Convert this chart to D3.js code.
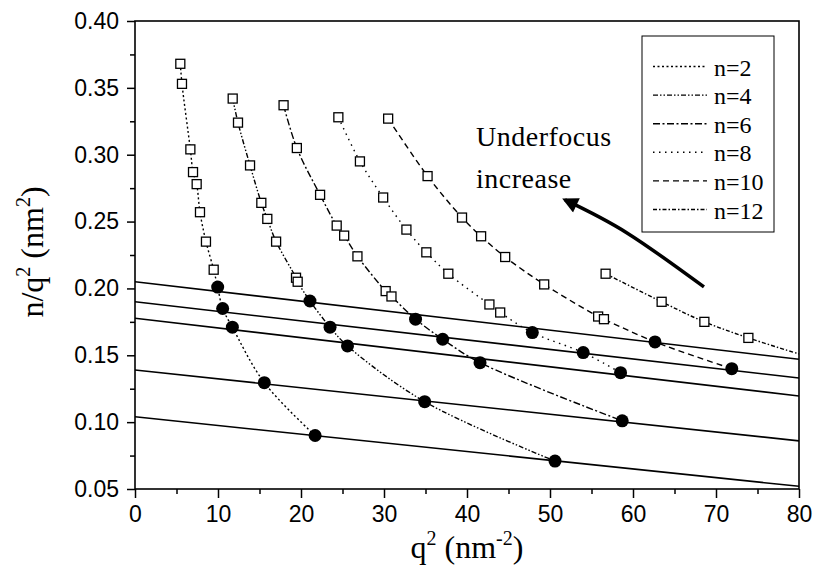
<!DOCTYPE html>
<html>
<head>
<meta charset="utf-8">
<script src="https://cdn.jsdelivr.net/npm/d3@7"></script>
<style>
  body { margin: 0; background: #fff; }
</style>
</head>
<body>
<div id="chart"></div>
<script>
// series names
const nLabels = ['n=2', 'n=4', 'n=6', 'n=8', 'n=10', 'n=12'];

// open squares (q^2, n/q^2) per series
const sqQ2 = [
  [5.46, 5.66, 6.67, 6.99, 7.43, 7.83, 8.55, 9.48],
  [11.77, 12.41, 13.86, 15.22, 15.94, 17.0, 19.4, 19.6],
  [17.9, 19.5, 22.3, 24.3, 25.2, 26.8, 30.2, 30.9],
  [24.5, 27.1, 29.9, 32.7, 35.1, 37.75, 42.7, 44.0],
  [30.5, 35.25, 39.4, 41.7, 44.6, 49.3, 55.8, 56.5],
  [56.7, 63.45, 68.6, 73.9]
];
const sqY = [
  [0.368, 0.353, 0.304, 0.287, 0.278, 0.257, 0.235, 0.214],
  [0.342, 0.324, 0.292, 0.264, 0.252, 0.235, 0.208, 0.205],
  [0.337, 0.305, 0.270, 0.247, 0.2395, 0.224, 0.198, 0.194],
  [0.328, 0.295, 0.268, 0.244, 0.227, 0.211, 0.188, 0.182],
  [0.327, 0.284, 0.253, 0.239, 0.2235, 0.203, 0.179, 0.177],
  [0.211, 0.190, 0.175, 0.163]
];

// filled circles (intersections) per series
const dotQ2 = [
  [9.96, 10.56, 11.73, 15.58, 21.7],
  [21.08, 23.5, 25.6, 34.9, 50.6],
  [33.8, 37.07, 41.57, 58.7],
  [47.87, 54.0, 58.5],
  [62.65, 71.9],
  []
];
const dotY = [
  [0.201, 0.185, 0.171, 0.1295, 0.090],
  [0.1906, 0.171, 0.157, 0.1153, 0.0709],
  [0.177, 0.162, 0.1445, 0.101],
  [0.167, 0.152, 0.137],
  [0.160, 0.140],
  []
];

// curve tail beyond the last marker (n=12 runs out to the frame)
const tailQ2 = [null, null, null, null, null, 80];
const tailY = [null, null, null, null, null, 0.151];

// straight solid lines: value at q^2 = 0 and at q^2 = 80
const solidStart = [0.205, 0.190, 0.1777, 0.139, 0.104];
const solidEnd = [0.147, 0.133, 0.1196, 0.086, 0.052];

// the "underfocus increase" arrow, in data units (head at the first point)
const arrowQ2 = [51.81, 59.28, 68.55];
const arrowY = [0.2662, 0.2415, 0.2011];

const xTicks = [0, 10, 20, 30, 40, 50, 60, 70, 80];
const yTicks = [0.05, 0.10, 0.15, 0.20, 0.25, 0.30, 0.35, 0.40];

const dashes = ['2,2.5', '5,2,1.5,2,1.5,2', '7,2.5,2,2.5', '1.5,4.5', '6,4', '4,2,1.5,2'];

let margin = { top: 21, right: 17, bottom: 85, left: 135 };
let width = 816 - margin.left - margin.right;
let height = 574 - margin.top - margin.bottom;

let svg = d3.select('#chart')
  .append('svg')
  .attr('width', 816)
  .attr('height', 574);

let g = svg.append('g')
  .attr('transform', `translate(${margin.left},${margin.top})`);

let x = d3.scaleLinear().domain([0, 80]).range([0, width]);
let y = d3.scaleLinear().domain([0.05, 0.40]).range([height, 0]);

// clip for lines
svg.append('defs').append('clipPath').attr('id', 'clip')
  .append('rect').attr('width', width).attr('height', height);

// arrow head marker
svg.select('defs').append('marker')
  .attr('id', 'head')
  .attr('viewBox', '0 0 10 10')
  .attr('refX', 8).attr('refY', 5)
  .attr('markerWidth', 5).attr('markerHeight', 4.5)
  .attr('markerUnits', 'strokeWidth')
  .attr('orient', 'auto-start-reverse')
  .append('path').attr('d', 'M0,0 L10,5 L0,10 Z').attr('fill', '#000');

// axes
let xMinor = d3.range(5, 80, 10);
let yMinor = d3.range(0.075, 0.40, 0.05);

g.append('g')
  .attr('transform', `translate(0,${height})`)
  .call(d3.axisBottom(x).tickValues(xMinor).tickSize(5).tickFormat(''))
  .call(a => a.select('.domain').remove());

g.append('g')
  .call(d3.axisLeft(y).tickValues(yMinor).tickSize(5).tickFormat(''))
  .call(a => a.select('.domain').remove());

let xAxis = g.append('g')
  .attr('transform', `translate(0,${height})`)
  .call(d3.axisBottom(x).tickValues(xTicks).tickSize(9).tickSizeOuter(0).tickPadding(8).tickFormat(d3.format('d')));

let yAxis = g.append('g')
  .call(d3.axisLeft(y).tickValues(yTicks).tickSize(8).tickSizeOuter(0).tickPadding(8).tickFormat(d3.format('.2f')));

[xAxis, yAxis].forEach(a => {
  a.selectAll('text')
    .style('font-family', '"Liberation Sans", Arial, sans-serif')
    .style('font-size', '23px')
    .attr('fill', '#000');
  a.select('.domain').remove();
});
g.selectAll('.tick line').attr('stroke', '#000').attr('stroke-width', 1.5);

// frame
g.append('rect')
  .attr('width', width).attr('height', height)
  .attr('fill', 'none')
  .attr('stroke', '#000')
  .attr('stroke-width', 1.6);

let plot = g.append('g').attr('clip-path', 'url(#clip)');

// solid lines
solidStart.forEach((s, i) => {
  plot.append('line')
    .attr('x1', x(0)).attr('y1', y(s))
    .attr('x2', x(80)).attr('y2', y(solidEnd[i]))
    .attr('stroke', '#000')
    .attr('stroke-width', 1.6);
});

// curves through squares and dots
let line = d3.line()
  .x(d => x(d[0]))
  .y(d => y(d[1]))
  .curve(d3.curveCatmullRom.alpha(0.5));

nLabels.forEach((name, i) => {
  let pts = sqQ2[i].map((q, j) => [q, sqY[i][j]])
    .concat(dotQ2[i].map((q, j) => [q, dotY[i][j]]));
  if (tailQ2[i] !== null) pts.push([tailQ2[i], tailY[i]]);
  plot.append('path')
    .datum(pts)
    .attr('d', line)
    .attr('fill', 'none')
    .attr('stroke', '#000')
    .attr('stroke-width', 1.4)
    .attr('stroke-dasharray', dashes[i]);
});

// open squares
nLabels.forEach((name, i) => {
  plot.selectAll(null)
    .data(sqQ2[i].map((q, j) => [q, sqY[i][j]]))
    .enter()
    .append('rect')
    .attr('x', d => x(d[0]) - 4.5)
    .attr('y', d => y(d[1]) - 4.5)
    .attr('width', 9).attr('height', 9)
    .attr('fill', '#fff')
    .attr('stroke', '#000')
    .attr('stroke-width', 1.3);
});

// filled circles
nLabels.forEach((name, i) => {
  plot.selectAll(null)
    .data(dotQ2[i].map((q, j) => [q, dotY[i][j]]))
    .enter()
    .append('circle')
    .attr('cx', d => x(d[0]))
    .attr('cy', d => y(d[1]))
    .attr('r', 6.5)
    .attr('fill', '#000');
});

// arrow
g.append('path')
  .datum(arrowQ2.map((q, j) => [q, arrowY[j]]))
  .attr('d', d3.line().x(d => x(d[0])).y(d => y(d[1])).curve(d3.curveNatural))
  .attr('fill', 'none')
  .attr('stroke', '#000')
  .attr('stroke-width', 3.5)
  .attr('marker-start', 'url(#head)');

// annotation text
let serif = '"Liberation Serif", "Times New Roman", serif';
svg.append('text')
  .attr('x', 476).attr('y', 146)
  .style('font-family', serif).style('font-size', '28px')
  .style('letter-spacing', '0.5px')
  .text('Underfocus');
svg.append('text')
  .attr('x', 476).attr('y', 188)
  .style('font-family', serif).style('font-size', '28px')
  .style('letter-spacing', '0.5px')
  .text('increase');

// legend
let legend = svg.append('g');
legend.append('rect')
  .attr('x', 642).attr('y', 36)
  .attr('width', 132).attr('height', 196)
  .attr('fill', '#fff')
  .attr('stroke', '#000')
  .attr('stroke-width', 1);

nLabels.forEach((name, i) => {
  let by = 75.5 + i * 28.6;
  legend.append('line')
    .attr('x1', 653).attr('x2', 707)
    .attr('y1', by - 9).attr('y2', by - 9)
    .attr('stroke', '#000')
    .attr('stroke-width', 1.4)
    .attr('stroke-dasharray', dashes[i]);
  legend.append('text')
    .attr('x', 714).attr('y', by)
    .style('font-family', serif).style('font-size', '24px')
    .text(name);
});

// axis titles
let xt = svg.append('text')
  .attr('x', 467).attr('y', 558)
  .attr('text-anchor', 'middle')
  .style('font-family', serif).style('font-size', '32px');
xt.append('tspan').text('q');
xt.append('tspan').attr('dy', -13).style('font-size', '20px').text('2');
xt.append('tspan').attr('dy', 13).text(' (nm');
xt.append('tspan').attr('dy', -13).style('font-size', '20px').text('-2');
xt.append('tspan').attr('dy', 13).text(')');

let yt = svg.append('text')
  .attr('transform', 'translate(43,252) rotate(-90)')
  .attr('text-anchor', 'middle')
  .style('font-family', serif).style('font-size', '32px');
yt.append('tspan').text('n/q');
yt.append('tspan').attr('dy', -13).style('font-size', '20px').text('2');
yt.append('tspan').attr('dy', 13).text(' (nm');
yt.append('tspan').attr('dy', -13).style('font-size', '20px').text('2');
yt.append('tspan').attr('dy', 13).text(')');
</script>
</body>
</html>
